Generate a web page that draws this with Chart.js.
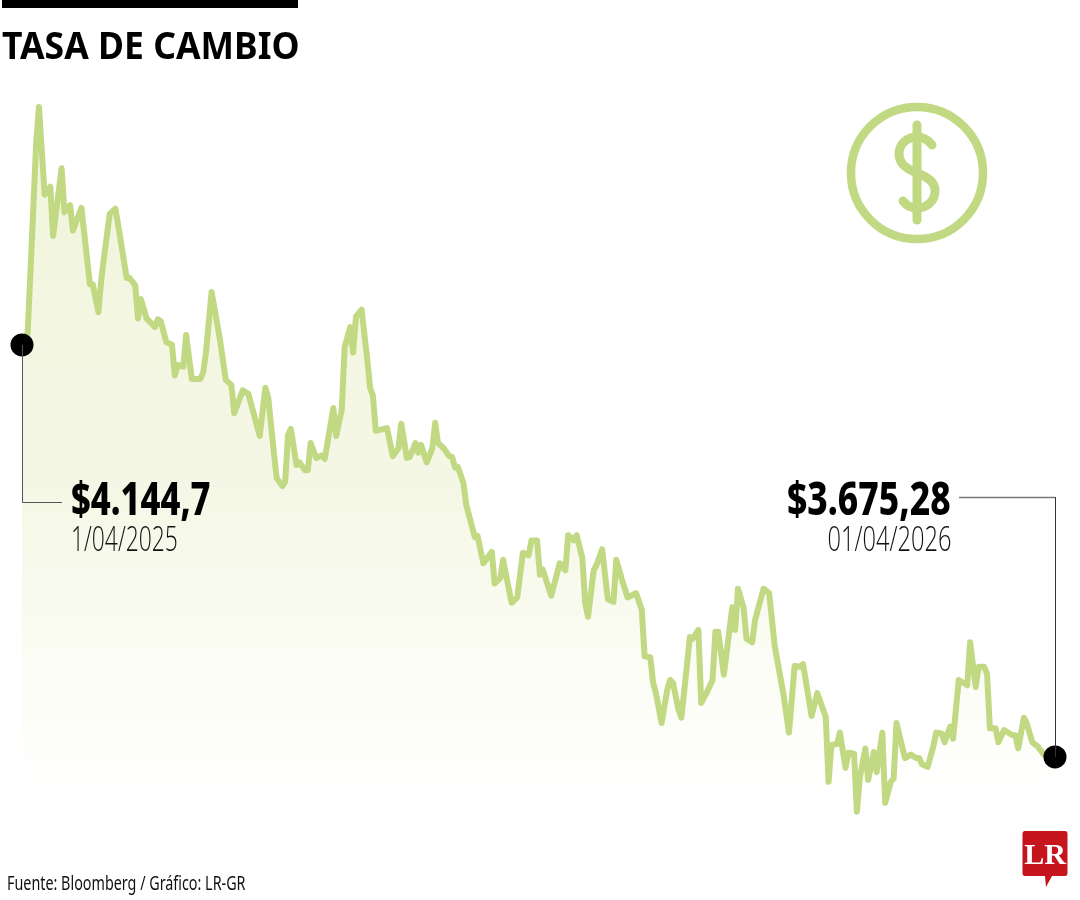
<!DOCTYPE html>
<html lang="es">
<head>
<meta charset="utf-8">
<title>Tasa de cambio</title>
<script src="https://cdn.jsdelivr.net/npm/chart.js@4"></script>
<style>
html,body{margin:0;padding:0;background:#fff;width:1080px;height:900px;overflow:hidden}
#wrap{position:relative;width:1080px;height:900px}
canvas{position:absolute;left:0;top:0}
svg{position:absolute;left:0;top:0}
.t{position:absolute;white-space:nowrap;color:#000}
#bar{position:absolute;left:2px;top:0;width:296px;height:8px;background:#000}
#title{left:2px;top:18px;font:700 38px "Noto Sans";transform:scaleX(.935);transform-origin:left top}
.big{font:800 46px "Noto Sans"}
.date{font:300 34px "Open Sans";color:#111}
#v1{left:71px;top:466px;transform:scaleX(.75);transform-origin:left top}
#d1{left:71px;top:515px;transform:scaleX(.672);transform-origin:left top}
#v2{right:129px;top:466px;transform:scaleX(.77);transform-origin:right top}
#d2{right:129px;top:515px;transform:scaleX(.695);transform-origin:right top}
#src{left:7px;top:870px;font:400 19px "Noto Sans";color:#111;transform:scaleX(.755);transform-origin:left top}
</style>
</head>
<body>
<div id="wrap">
<canvas id="c" width="1080" height="900"></canvas>
<svg width="1080" height="900" viewBox="0 0 1080 900">
  <g fill="none" stroke="#c2d983" stroke-linecap="round">
    <circle cx="917" cy="173" r="66" stroke-width="8.5"/>
    <path d="M917 125V220" stroke-width="9"/>
    <path d="M932 145C928 140 922 137 917 137C907 137 899 144 899 154C899 164 907 169 917 173C927 177 935 181 935 191C935 201 927 208 917 208C911 208 906 205 903 201" stroke-width="9"/>
  </g>
  <path d="M22.500 345V502.500H62" fill="none" stroke="#555" stroke-width="1"/>
  <path d="M959 497.500H1055" fill="none" stroke="#777" stroke-width="1.500"/>
  <path d="M1055.500 497V757" fill="none" stroke="#333" stroke-width="1"/>
  <path d="M1025 831H1065Q1067.500 831 1067.500 834V873Q1067.500 876 1065 876H1052L1046 887L1045 876H1025Q1022.500 876 1022.500 873V834Q1022.500 831 1025 831Z" fill="#c4161c"/>
  <text x="1045" y="864" text-anchor="middle" font-family="Liberation Serif" font-weight="700" font-size="30" fill="#fff">LR</text>
</svg>
<div id="bar"></div>
<div class="t" id="title">TASA DE CAMBIO</div>
<div class="t big" id="v1">$4.144,7</div>
<div class="t date" id="d1">1/04/2025</div>
<div class="t big" id="v2">$3.675,28</div>
<div class="t date" id="d2">01/04/2026</div>
<div class="t" id="src">Fuente: Bloomberg / Gráfico: LR-GR</div>
</div>
<script>
// Calendar days since 1/04/2025
const days = [0,2,4,5,6,8,10,11,14,15,17,18,21,24,25,27,28,29,31,33,34,37,38,40,41,42,44,47,48,49,51,53,54,55,57,58,60,63,64,65,67,70,72,74,75,78,80,84,86,87,89,90,92,93,94,95,97,98,100,101,102,104,106,107,110,111,113,114,116,117,118,120,122,123,124,125,129,131,133,134,136,137,139,140,141,143,145,146,147,149,151,152,153,154,156,157,160,161,163,166,167,169,170,173,175,177,179,180,182,183,184,187,190,192,193,195,196,198,199,200,202,203,205,207,209,210,212,214,217,219,220,222,223,224,226,228,229,230,232,233,236,237,239,240,242,244,245,246,248,251,252,253,255,256,258,259,262,264,266,269,271,273,275,276,279,281,284,285,286,288,289,291,292,294,295,296,298,299,301,302,304,305,307,308,309,311,312,314,316,317,318,320,322,323,325,326,328,329,331,334,335,337,338,340,341,342,344,345,347,348,350,351,352,354,355,357,359,361,365];
// COP per USD
const rates = [4144.7,4158,4300,4375,4416,4316,4325,4269,4346,4296,4304,4275,4301,4214,4214,4182,4219,4245,4294,4300,4281,4221,4221,4213,4175,4197,4175,4165,4174,4172,4148,4145,4110,4122,4120,4156,4106,4106,4113,4136,4205,4150,4105,4099,4067,4093,4089,4041,4096,4085,4022,3993,3984,3989,4042,4049,4008,4011,4002,4002,4033,4016,4019,4015,4073,4041,4071,4142,4165,4136,4177,4185,4128,4096,4087,4047,4050,4018,4027,4055,4016,4017,4033,4022,4031,4011,4027,4056,4033,4027,4018,4017,4005,4006,3987,3962,3926,3927,3896,3909,3873,3879,3900,3851,3857,3908,3905,3922,3922,3883,3889,3859,3896,3888,3928,3922,3928,3902,3851,3835,3888,3894,3912,3855,3852,3900,3877,3857,3862,3843,3790,3789,3760,3748,3714,3752,3763,3760,3729,3720,3812,3810,3820,3737,3749,3763,3818,3818,3769,3846,3820,3867,3845,3810,3806,3831,3867,3862,3801,3748,3703,3779,3778,3781,3722,3748,3721,3647,3689,3690,3703,3663,3680,3679,3613,3651,3685,3649,3681,3658,3703,3623,3647,3651,3714,3687,3674,3678,3674,3674,3667,3664,3687,3703,3702,3692,3710,3696,3763,3757,3806,3755,3778,3778,3770,3708,3708,3692,3706,3704,3700,3700,3685,3720,3714,3692,3687,3678,3675.28];
const endDays = [0,365];
const endRates = [4144.7,3675.28];
const floorRate = 3630;

const series = days.map((d,i)=>({x:d,y:rates[i]}));
const ends = endDays.map((d,i)=>({x:d,y:endRates[i]}));

new Chart(document.getElementById('c'),{
  type:'line',
  data:{datasets:[
    {data:ends,showLine:false,pointRadius:11.5,pointBackgroundColor:'#000',pointBorderWidth:0,order:0,clip:false},
    {data:series,borderColor:'#c2d983',borderWidth:6,tension:0,pointRadius:0,borderJoinStyle:'round',borderCapStyle:'round',order:1,
     fill:{target:{value:floorRate}},
     backgroundColor(ctx){
       const ch=ctx.chart;
       if(!ch.chartArea) return 'transparent';
       const g=ch.ctx.createLinearGradient(0,ch.scales.y.getPixelForValue(4416),0,ch.scales.y.getPixelForValue(floorRate));
       g.addColorStop(0,'#f1f5da');
       g.addColorStop(.55,'#f5f7e6');
       g.addColorStop(.8,'#fbfcf3');
       g.addColorStop(1,'#ffffff');
       return g;
     }}
  ]},
  options:{
    responsive:false,animation:false,devicePixelRatio:1,
    layout:{padding:0,autoPadding:false},
    plugins:{legend:{display:false},tooltip:{enabled:false},title:{display:false}},
    scales:{
      x:{type:'linear',display:false,min:-7.77,max:373.84},
      y:{type:'linear',display:false,min:3512.3,max:4537.8}
    }
  }
});
</script>
</body>
</html>
